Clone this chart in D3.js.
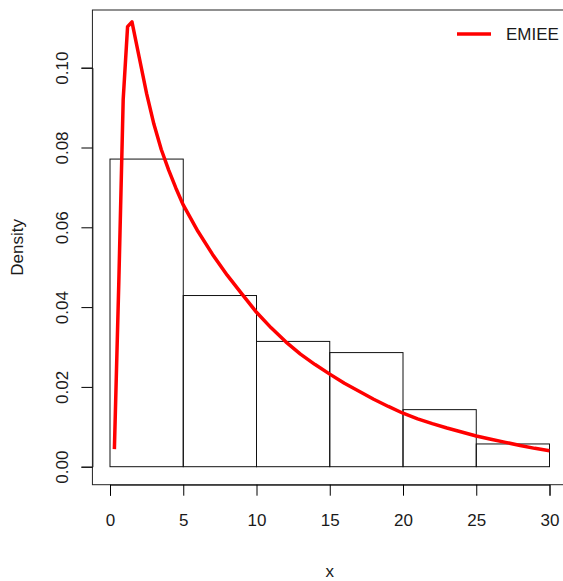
<!DOCTYPE html>
<html>
<head>
<meta charset="utf-8">
<script src="https://cdn.jsdelivr.net/npm/d3@7"></script>
<style>
  body { margin: 0; background: #fff; }
  text { font-family: "Liberation Sans", Arial, sans-serif; fill: #1a1a1a; }
</style>
</head>
<body>
<div id="chart"></div>
<script>
// histogram bins (density)
var binStarts = [0, 5, 10, 15, 20, 25];
var binWidth = 5;
var binDensity = [0.0771, 0.0429, 0.0314, 0.0286, 0.0143, 0.0057];

// fitted EMIEE density curve
var curveX = [0.3, 0.6, 0.9, 1.2, 1.5, 2, 2.5, 3, 3.5, 4, 4.5, 5, 6, 7, 8, 9, 10,
  11, 12, 13, 14, 15, 16, 17, 18, 19, 20, 21, 22, 23, 24, 25, 26, 27, 28, 29, 30];
var curveY = [0.0044, 0.046, 0.092, 0.1103, 0.1115, 0.1025, 0.0935, 0.0858, 0.0795, 0.0744, 0.0698, 0.0656,
  0.0590, 0.0532, 0.0480, 0.0433, 0.0387, 0.0348, 0.0313, 0.0282, 0.0256, 0.0232, 0.0209, 0.0189,
  0.0169, 0.0151, 0.0134, 0.0120, 0.0108, 0.0097, 0.0087, 0.0077, 0.0069, 0.0061, 0.0053, 0.0046, 0.0040];

var xTicks = [0, 5, 10, 15, 20, 25, 30];
var yTicks = [0, 0.02, 0.04, 0.06, 0.08, 0.10];
var legendLabel = "EMIEE";

var width = 563, height = 581;

var x = d3.scaleLinear().domain([0, 30]).range([110, 549.5]);
var y = d3.scaleLinear().domain([0, 0.1]).range([466.7, 67.7]);

var svg = d3.select("#chart").append("svg")
  .attr("width", width)
  .attr("height", height);

// plot box
var boxL = x(-1.2), boxR = x(31.2), boxT = 10, boxB = 484.7;
svg.append("rect")
  .attr("x", boxL).attr("y", boxT)
  .attr("width", boxR - boxL).attr("height", boxB - boxT)
  .attr("fill", "none").attr("stroke", "#222").attr("stroke-width", 1);

// histogram
svg.selectAll(".bar")
  .data(binStarts)
  .enter().append("rect")
  .attr("class", "bar")
  .attr("x", function(d) { return x(d); })
  .attr("y", function(d, i) { return y(binDensity[i]); })
  .attr("width", function(d) { return x(d + binWidth) - x(d); })
  .attr("height", function(d, i) { return y(0) - y(binDensity[i]); })
  .attr("fill", "none")
  .attr("stroke", "#111")
  .attr("stroke-width", 1);

// x axis
var xAxis = svg.append("g")
  .attr("transform", "translate(0," + boxB + ")")
  .call(d3.axisBottom(x).tickValues(xTicks).tickSize(11).tickPadding(18).tickFormat(d3.format("d")));
xAxis.select(".domain").attr("stroke", "#222");
xAxis.selectAll("text").attr("font-size", "17px").style("font-family", "Liberation Sans, Arial, sans-serif").attr("fill", "#1a1a1a");

// y axis
var yAxis = svg.append("g")
  .attr("transform", "translate(" + boxL + ",0)")
  .call(d3.axisLeft(y).tickValues(yTicks).tickSize(11).tickFormat(d3.format(".2f")));
yAxis.select(".domain").attr("stroke", "#222");
yAxis.selectAll("text")
  .attr("font-size", "17px")
  .style("font-family", "Liberation Sans, Arial, sans-serif")
  .attr("fill", "#1a1a1a")
  .attr("text-anchor", "middle")
  .attr("x", 0).attr("dy", 0)
  .attr("transform", "translate(" + (68 - boxL) + ",0) rotate(-90)")
  .attr("y", 0);

// curve
var line = d3.line()
  .x(function(d, i) { return x(curveX[i]); })
  .y(function(d) { return y(d); });

svg.append("path")
  .datum(curveY)
  .attr("d", line)
  .attr("fill", "none")
  .attr("stroke", "#ff0000")
  .attr("stroke-width", 3.5)
  .attr("stroke-linejoin", "round");

// axis titles
svg.append("text")
  .attr("x", (boxL + boxR) / 2)
  .attr("y", 577)
  .attr("text-anchor", "middle")
  .attr("font-size", "17px")
  .text("x");

svg.append("text")
  .attr("transform", "translate(23," + ((boxT + boxB) / 2) + ") rotate(-90)")
  .attr("text-anchor", "middle")
  .attr("font-size", "17px")
  .text("Density");

// legend
svg.append("line")
  .attr("x1", 457).attr("x2", 491)
  .attr("y1", 34).attr("y2", 34)
  .attr("stroke", "#ff0000")
  .attr("stroke-width", 3.5);

svg.append("text")
  .attr("x", 506)
  .attr("y", 40)
  .attr("font-size", "17px")
  .text(legendLabel);
</script>
</body>
</html>
